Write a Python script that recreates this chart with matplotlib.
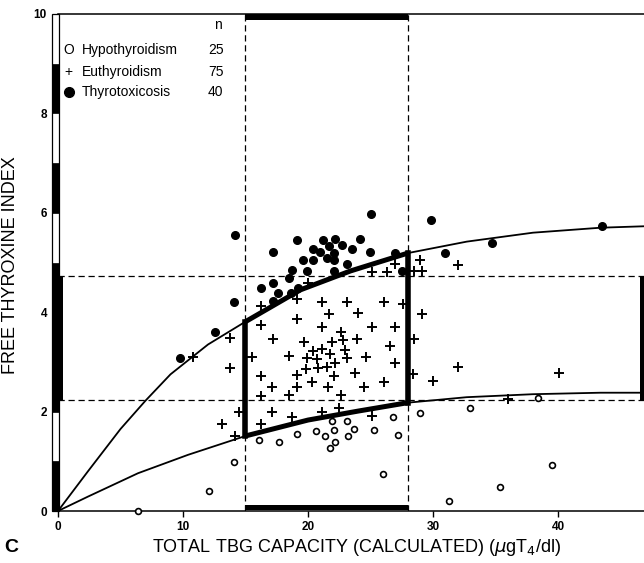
import matplotlib
matplotlib.use("Agg")
import matplotlib.pyplot as plt
from matplotlib.patches import Rectangle

plt.rcParams['font.family'] = ['Liberation Sans', 'DejaVu Sans']

# Hypothyroidism (open circles)
hypo_x = [16.1, 17.7, 19.1, 20.6, 21.4, 22.1, 22.2, 21.8, 21.9, 23.1, 23.7, 23.2, 25.3,
          26.8, 27.2, 26.0, 14.1, 12.1, 29.0, 31.3, 33.0, 38.4, 39.5, 35.4, 6.4]
hypo_y = [1.43, 1.39, 1.55, 1.61, 1.50, 1.63, 1.39, 1.26, 1.82, 1.82, 1.65, 1.50, 1.62,
          1.89, 1.53, 0.74, 0.98, 0.40, 1.98, 0.21, 2.07, 2.28, 0.93, 0.49, 0.0]

# Euthyroidism (plus signs)
eu_x = [20.0, 16.2, 21.1, 23.1, 26.1, 21.7, 19.1, 16.2, 21.1, 22.6, 24.0, 25.1, 27.0,
        17.2, 19.7, 21.9, 22.8, 23.9, 26.6, 21.1, 23.0, 20.4, 18.5, 19.9, 20.7, 21.8,
        23.1, 24.6, 22.2, 27.0, 19.8, 20.8, 21.5, 19.1, 22.1, 23.8, 16.2, 20.3, 26.1,
        17.1, 19.1, 21.6, 24.5, 16.2, 18.5, 22.6, 17.1, 18.7, 21.1, 22.5, 25.1, 16.2,
        25.1, 26.3, 27.0, 19.1, 15.5, 27.6, 14.5,
        29.0, 32.0, 28.5, 29.1, 29.1, 28.5,
        28.4, 32.0, 30.0, 40.1, 36.0,
        10.8, 13.8, 13.8, 13.1, 14.2]
eu_y = [4.58, 4.12, 4.21, 4.21, 4.21, 3.96, 3.86, 3.74, 3.71, 3.61, 3.98, 3.71, 3.71,
        3.47, 3.41, 3.41, 3.44, 3.47, 3.32, 3.25, 3.23, 3.21, 3.11, 3.07, 3.05, 3.16,
        3.07, 3.09, 2.98, 2.98, 2.86, 2.87, 2.89, 2.74, 2.72, 2.78, 2.72, 2.60, 2.59,
        2.49, 2.50, 2.50, 2.50, 2.31, 2.33, 2.33, 2.00, 1.89, 1.99, 2.07, 1.91, 1.75,
        4.80, 4.80, 4.97, 4.26, 3.09, 4.16, 2.00,
        5.06, 4.95, 4.82, 4.82, 3.96, 3.47,
        2.76, 2.90, 2.62, 2.78, 2.25,
        3.09, 3.49, 2.87, 1.75, 1.50]

# Thyrotoxicosis (filled circles)
thyro_x = [14.16, 25.04, 29.84, 17.17, 19.1, 20.4, 21.2, 22.2, 24.2, 21.7, 22.7, 21.0,
           22.1, 23.5, 25.0, 19.6, 20.4, 21.5, 22.1, 23.1, 27.0, 31.0, 18.7, 19.9,
           22.1, 18.5, 17.2, 16.2, 17.6, 19.2, 18.6, 17.2, 14.1, 12.56, 9.76, 34.7,
           43.5, 27.5]
thyro_y = [5.55, 5.98, 5.86, 5.22, 5.45, 5.28, 5.45, 5.47, 5.47, 5.33, 5.35, 5.22,
           5.20, 5.28, 5.22, 5.06, 5.06, 5.10, 5.05, 4.97, 5.20, 5.20, 4.85, 4.82,
           4.82, 4.68, 4.59, 4.48, 4.38, 4.48, 4.38, 4.23, 4.20, 3.60, 3.07, 5.40,
           5.73, 4.82]

# boundary curves
upper_x = [0, 2.4, 5.0, 7.0, 9.0, 12.0, 15.0, 19.4, 23.4, 28.0, 32.7, 38.0, 43.4, 47.0]
upper_y = [0, 0.80, 1.65, 2.22, 2.75, 3.35, 3.81, 4.45, 4.83, 5.19, 5.42, 5.60, 5.70, 5.73]
lower_x = [0, 2.4, 6.4, 10.4, 15.0, 20.0, 24.0, 28.0, 32.7, 38.0, 43.4, 47.0]
lower_y = [0, 0.29, 0.76, 1.13, 1.51, 1.83, 2.01, 2.18, 2.29, 2.35, 2.38, 2.38]

# normal ranges
tbg_lo, tbg_hi = 15, 28
fti_lo, fti_hi = 2.23, 4.72

legend_rows = [("O", "Hypothyroidism", "25"), ("+", "Euthyroidism", "75"), ("●", "Thyrotoxicosis", "40")]

fig = plt.figure(figsize=(6.44, 5.63), dpi=100)
ax = fig.add_axes([58 / 644, 52 / 563, 586 / 644, 497 / 563])
ax.set_xlim(0, 46.88)
ax.set_ylim(0, 10)

for s in ['left', 'right']:
    ax.spines[s].set_visible(False)
ax.spines['bottom'].set_linewidth(1.1)
ax.spines['top'].set_linewidth(1.1)

# left scale bar with alternating segments
ax.add_patch(Rectangle((-0.45, 0), 0.5, 10, fc='white', ec='black', lw=0.9, clip_on=False, zorder=3))
for lo in range(0, 10, 2):
    ax.add_patch(Rectangle((-0.45, lo), 0.5, 1, fc='black', ec='black', lw=0.5, clip_on=False, zorder=3))
ax.add_patch(Rectangle((-0.42, fti_lo), 0.85, fti_hi - fti_lo, fc='black', clip_on=False, zorder=3))

# bars marking normal ranges on the other edges
ax.add_patch(Rectangle((tbg_lo, 0.02), tbg_hi - tbg_lo, 0.1, fc='black', clip_on=False, zorder=3))
ax.add_patch(Rectangle((tbg_lo, 9.88), tbg_hi - tbg_lo, 0.12, fc='black', clip_on=False, zorder=3))
ax.add_patch(Rectangle((46.55, fti_lo), 0.33, fti_hi - fti_lo, fc='black', clip_on=False, zorder=3))

# dashed normal-range lines
for xv in [tbg_lo, tbg_hi]:
    ax.plot([xv, xv], [0, 10], color='black', lw=0.9, ls=(0, (5, 3)), zorder=2)
for yv in [fti_lo, fti_hi]:
    ax.plot([0, 46.88], [yv, yv], color='black', lw=0.9, ls=(0, (5, 3)), zorder=2)

# curves
ax.plot(upper_x, upper_y, color='black', lw=1.3, zorder=2)
ax.plot(lower_x, lower_y, color='black', lw=1.3, zorder=2)
ux = [x for x in upper_x if tbg_lo <= x <= tbg_hi]
uy = [y for x, y in zip(upper_x, upper_y) if tbg_lo <= x <= tbg_hi]
lx = [x for x in lower_x if tbg_lo <= x <= tbg_hi]
ly = [y for x, y in zip(lower_x, lower_y) if tbg_lo <= x <= tbg_hi]
ax.plot(ux, uy, color='black', lw=3.6, zorder=2, solid_capstyle='butt')
ax.plot(lx, ly, color='black', lw=3.6, zorder=2, solid_capstyle='butt')
ax.plot([tbg_lo, tbg_lo], [ly[0], uy[0]], color='black', lw=4, zorder=2)
ax.plot([tbg_hi, tbg_hi], [ly[-1], uy[-1]], color='black', lw=4, zorder=2)

# points
ax.plot(hypo_x, hypo_y, ls='none', marker='o', ms=4.2, mfc='white', mec='black', mew=1.2,
        zorder=4, clip_on=False)
ax.plot(eu_x, eu_y, ls='none', marker='+', ms=7, mec='black', mew=1.4, zorder=4)
ax.plot(thyro_x, thyro_y, ls='none', marker='o', ms=5.5, mfc='black', mec='black', zorder=4)

# legend as text
ax.text(12.8, 9.78, "n", ha='center', va='center', fontsize=10)
for i, (sym, name, n) in enumerate(legend_rows):
    yy = [9.28, 8.83, 8.43][i]
    if sym == "●":
        ax.plot([0.84], [yy], marker='o', ms=7, color='black', ls='none')
    else:
        ax.text(0.84, yy, sym, ha='center', va='center', fontsize=10)
    ax.text(1.92, yy, name, ha='left', va='center', fontsize=10)
    ax.text(12.0, yy, n, ha='left', va='center', fontsize=10)

ax.set_xticks([0, 10, 20, 30, 40])
ax.set_yticks([0, 2, 4, 6, 8, 10])
ax.tick_params(axis='x', direction='out', length=4, width=1, labelsize=8.5, pad=3)
ax.tick_params(axis='y', length=0, labelsize=8.5, pad=8)
for lab in ax.get_xticklabels() + ax.get_yticklabels():
    lab.set_fontweight('bold')

fig.text(357 / 644, 1 - 547 / 563, "TOTAL TBG CAPACITY (CALCULATED) ($\\mu$gT$_4$/dl)",
         ha='center', va='center', fontsize=13)
fig.text(11 / 644, 1 - 265 / 563, "FREE THYROXINE INDEX", rotation=90,
         ha='center', va='center', fontsize=13)
fig.text(11 / 644, 1 - 547 / 563, "C", ha='center', va='center', fontsize=14, fontweight='bold')

fig.savefig("out.png", dpi=100)
